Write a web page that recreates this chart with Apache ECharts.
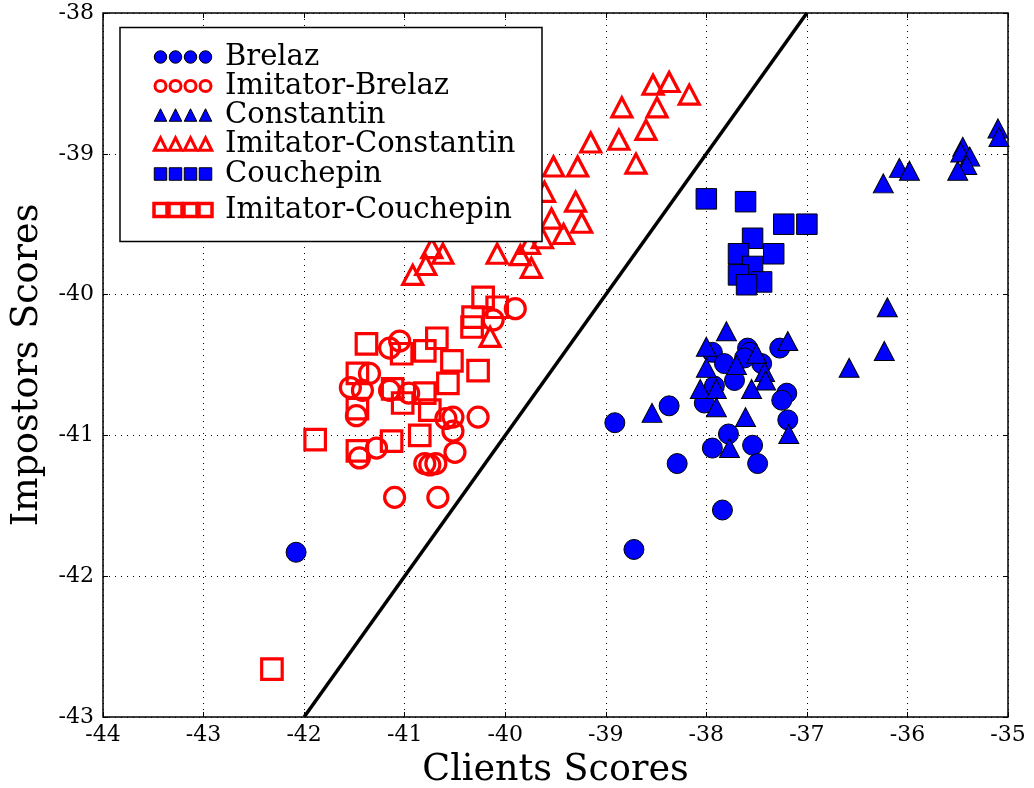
<!DOCTYPE html>
<html><head><meta charset="utf-8">
<script src="https://cdn.jsdelivr.net/npm/echarts@6/dist/echarts.min.js"></script>
<style>html,body{margin:0;padding:0;background:#fff}#c{width:1034px;height:788px}</style>
</head><body><div id="c"></div>
<script>
// ---- data ----
const xMin = -44, xMax = -35, yMin = -43, yMax = -38;
const seriesNames = ['Brelaz','Imitator-Brelaz','Constantin','Imitator-Constantin','Couchepin','Imitator-Couchepin'];

const brelazX = [-42.08,-38.91,-38.37,-38.72,-38.29,-37.94,-37.78,-37.84,-37.54,-37.49,-37.20,-37.19,-37.25,-37.27,-37.59,-37.57,-37.94,-37.82,-37.45,-37.62,-37.92,-37.72,-38.02];
const brelazY = [-41.83,-40.91,-40.79,-41.81,-41.20,-41.09,-40.99,-41.53,-41.07,-41.20,-40.70,-40.89,-40.75,-40.38,-40.38,-40.41,-40.41,-40.49,-40.49,-40.45,-40.65,-40.61,-40.77];

const imBrelazX = [-39.90,-40.12,-41.05,-41.15,-41.35,-41.54,-41.42,-41.15,-40.96,-41.48,-41.28,-41.45,-40.80,-40.75,-40.69,-41.10,-40.67,-40.52,-40.27,-40.59,-40.50,-40.52];
const imBrelazY = [-40.10,-40.18,-40.33,-40.38,-40.56,-40.66,-40.68,-40.68,-40.70,-40.86,-41.09,-41.16,-41.20,-41.21,-41.20,-41.44,-41.44,-40.87,-40.87,-40.88,-41.12,-40.97];

const constantinX = [-37.80,-38.00,-37.19,-37.50,-37.70,-38.00,-37.42,-37.41,-37.55,-38.06,-37.90,-37.90,-38.54,-37.61,-37.18,-37.77,-35.10,-35.09,-35.45,-35.47,-35.38,-35.41,-35.50,-36.08,-35.98,-36.24,-36.20,-36.23,-36.58];
const constantinY = [-40.26,-40.37,-40.33,-40.42,-40.50,-40.52,-40.55,-40.61,-40.67,-40.67,-40.67,-40.80,-40.84,-40.87,-40.99,-41.09,-38.82,-38.88,-38.95,-38.99,-39.02,-39.08,-39.12,-39.10,-39.12,-39.21,-40.09,-40.40,-40.52];

const imConstantinX = [-38.53,-38.37,-38.17,-38.84,-38.49,-38.60,-38.87,-38.70,-39.15,-39.28,-39.52,-39.30,-39.54,-39.24,-39.42,-39.61,-39.63,-40.92,-40.79,-40.62,-40.73,-40.08,-39.85,-39.74,-39.76,-40.15];
const imConstantinY = [-38.51,-38.49,-38.58,-38.67,-38.67,-38.83,-38.90,-39.07,-38.92,-39.09,-39.09,-39.34,-39.46,-39.49,-39.57,-39.27,-39.60,-39.86,-39.79,-39.71,-39.67,-39.71,-39.72,-39.81,-39.64,-40.30];

const couchepinX = [-38.00,-37.61,-37.23,-37.00,-37.54,-37.33,-37.68,-37.54,-37.68,-37.45,-37.60];
const couchepinY = [-39.32,-39.34,-39.50,-39.50,-39.60,-39.71,-39.71,-39.80,-39.86,-39.91,-39.93];

const imCouchepinX = [-40.22,-40.08,-40.32,-40.33,-40.68,-40.80,-41.38,-41.03,-40.53,-40.27,-41.47,-40.57,-40.80,-41.12,-41.02,-41.47,-40.75,-40.85,-41.13,-41.47,-41.89,-42.32];
const imCouchepinY = [-40.02,-40.09,-40.16,-40.23,-40.31,-40.40,-40.35,-40.42,-40.47,-40.54,-40.56,-40.63,-40.70,-40.67,-40.77,-40.81,-40.82,-41.00,-41.04,-41.11,-41.03,-42.66];

const diagX = [-42, -37];
const diagY = [-43, -38];

const xTickLabels = ['-44','-43','-42','-41','-40','-39','-38','-37','-36','-35'];
const yTickLabels = ['-43','-42','-41','-40','-39','-38'];

// ---- helpers ----
const zip = (xs, ys) => xs.map((x, i) => [x, ys[i]]);
const BLUE = '#0000ff', RED = '#ff0000';
const FONT = "'DejaVu Serif', serif";

function filled(name, symbol, size, xs, ys, z) {
  return { name, type: 'scatter', symbol, symbolSize: size, data: zip(xs, ys), z,
    itemStyle: { color: BLUE, borderColor: '#000', borderWidth: 1, opacity: 1 },
    emphasis: { disabled: true }, animation: false };
}
function hollow(name, symbol, size, xs, ys, z) {
  return { name, type: 'scatter', symbol, symbolSize: size, data: zip(xs, ys), z,
    itemStyle: { color: 'rgba(0,0,0,0)', borderColor: RED, borderWidth: 3.2, opacity: 1 },
    emphasis: { disabled: true }, animation: false };
}

// ---- legend via graphic ----
const legendRows = [
  { name: seriesNames[0], shape: 'circle', fill: BLUE, stroke: '#000', lw: 1, s: 12.5, y: 57 },
  { name: seriesNames[1], shape: 'circle', fill: '#fff', stroke: RED, lw: 3, s: 11, y: 86 },
  { name: seriesNames[2], shape: 'triangle', fill: BLUE, stroke: '#000', lw: 1, s: 12.5, y: 115 },
  { name: seriesNames[3], shape: 'triangle', fill: '#fff', stroke: RED, lw: 3, s: 12.5, y: 144 },
  { name: seriesNames[4], shape: 'rect', fill: BLUE, stroke: '#000', lw: 1, s: 12.5, y: 174 },
  { name: seriesNames[5], shape: 'rect', fill: '#fff', stroke: RED, lw: 3.5, s: 13, y: 210 }
];
const markerXs = [160.5, 175.5, 190.5, 205.5];
const legendChildren = [{
  type: 'rect', shape: { x: 120, y: 27.5, width: 422, height: 214 },
  style: { fill: '#fff', stroke: '#000', lineWidth: 1.5 }, z: 100
}];
legendRows.forEach(r => {
  markerXs.forEach(cx => {
    const h = r.s / 2;
    let el;
    if (r.shape === 'circle') el = { type: 'circle', shape: { cx, cy: r.y, r: h } };
    else if (r.shape === 'rect') el = { type: 'rect', shape: { x: cx - h, y: r.y - h, width: r.s, height: r.s } };
    else el = { type: 'polygon', shape: { points: [[cx, r.y - h], [cx + h, r.y + h], [cx - h, r.y + h]] } };
    el.style = { fill: r.fill, stroke: r.stroke, lineWidth: r.lw };
    el.z = 101;
    legendChildren.push(el);
  });
  legendChildren.push({ type: 'text', x: 225, y: r.y, z: 101,
    style: { text: r.name, font: "29px 'DejaVu Serif', serif", fill: '#000', textVerticalAlign: 'middle' } });
});

// ---- chart ----
const chart = echarts.init(document.getElementById('c'), null, { renderer: 'canvas' });
const tickStyle = { show: true, inside: true, length: 5, lineStyle: { color: '#000', width: 1 } };
const splitStyle = { show: true, lineStyle: { color: '#000', width: 1, type: [1, 5] } };
chart.setOption({
  animation: false,
  backgroundColor: '#fff',
  grid: { left: 103, top: 13, right: 26, bottom: 71, show: true, borderColor: '#000', borderWidth: 1.5, backgroundColor: '#fff', containLabel: false, outerBoundsMode: 'none' },
  xAxis: [
    { type: 'value', min: xMin, max: xMax, interval: 1, position: 'bottom',
      axisLine: { show: false }, axisTick: tickStyle, splitLine: splitStyle,
      axisLabel: { fontFamily: FONT, fontSize: 22, color: '#000', margin: 7, formatter: v => xTickLabels[Math.round(v - xMin)] },
      name: 'Clients Scores', nameLocation: 'middle', nameGap: 35,
      nameTextStyle: { fontFamily: FONT, fontSize: 36.5, color: '#000' } },
    { type: 'value', min: xMin, max: xMax, interval: 1, position: 'top',
      axisLine: { show: false }, axisTick: tickStyle, splitLine: { show: false }, axisLabel: { show: false } }
  ],
  yAxis: [
    { type: 'value', min: yMin, max: yMax, interval: 1, position: 'left',
      axisLine: { show: false }, axisTick: tickStyle, splitLine: splitStyle,
      axisLabel: { fontFamily: FONT, fontSize: 22, color: '#000', margin: 9, formatter: v => yTickLabels[Math.round(v - yMin)] },
      name: 'Impostors Scores', nameLocation: 'middle', nameGap: 57,
      nameTextStyle: { fontFamily: FONT, fontSize: 36.5, color: '#000' } },
    { type: 'value', min: yMin, max: yMax, interval: 1, position: 'right',
      axisLine: { show: false }, axisTick: tickStyle, splitLine: { show: false }, axisLabel: { show: false } }
  ],
  series: [
    filled(seriesNames[0], 'circle', 20, brelazX, brelazY, 2),
    hollow(seriesNames[1], 'circle', 20, imBrelazX, imBrelazY, 3),
    filled(seriesNames[2], 'triangle', [20, 19], constantinX, constantinY, 4),
    hollow(seriesNames[3], 'triangle', [20, 19], imConstantinX, imConstantinY, 5),
    filled(seriesNames[4], 'rect', 20.5, couchepinX, couchepinY, 6),
    hollow(seriesNames[5], 'rect', 20.5, imCouchepinX, imCouchepinY, 7),
    { name: 'diag', type: 'line', data: zip(diagX, diagY), symbol: 'none', clip: true, z: 8,
      lineStyle: { color: '#000', width: 3.5 }, emphasis: { disabled: true }, animation: false }
  ],
  graphic: [{ type: 'group', children: legendChildren }]
});
</script></body></html>
